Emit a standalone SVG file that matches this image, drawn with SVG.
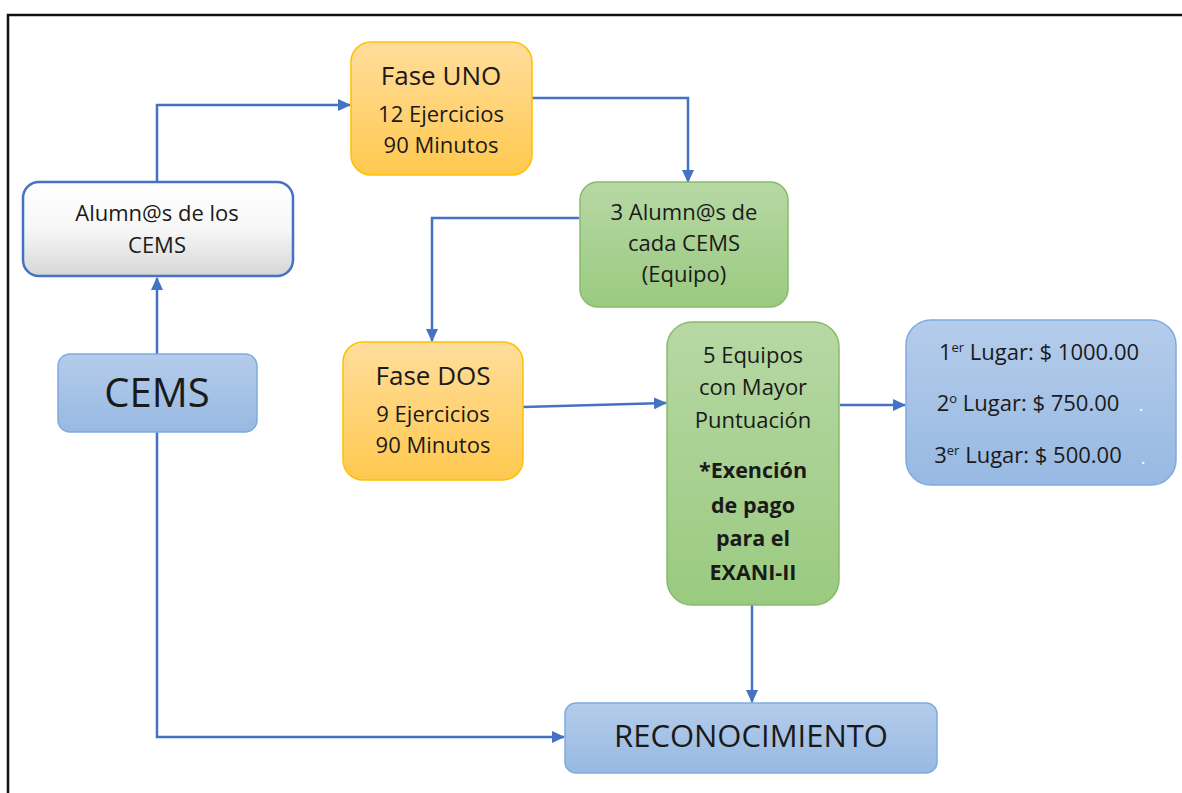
<svg xmlns="http://www.w3.org/2000/svg" width="1182" height="793" viewBox="0 0 1182 793">
<defs>
  <linearGradient id="gBlue" x1="0" y1="0" x2="0" y2="1">
    <stop offset="0" stop-color="#B5CCEB"/>
    <stop offset="1" stop-color="#97B9E2"/>
  </linearGradient>
  <linearGradient id="gGreen" x1="0" y1="0" x2="0" y2="1">
    <stop offset="0" stop-color="#B7D8A5"/>
    <stop offset="1" stop-color="#9ACA80"/>
  </linearGradient>
  <linearGradient id="gOrange" x1="0" y1="0" x2="0" y2="1">
    <stop offset="0" stop-color="#FFDD9C"/>
    <stop offset="1" stop-color="#FFC94F"/>
  </linearGradient>
  <linearGradient id="gWhite" x1="0" y1="0" x2="0" y2="1">
    <stop offset="0" stop-color="#FFFFFF"/>
    <stop offset="0.5" stop-color="#F7F7F7"/>
    <stop offset="1" stop-color="#D6D6D6"/>
  </linearGradient>
  <marker id="arr" markerUnits="userSpaceOnUse" markerWidth="13" markerHeight="12" refX="12" refY="6" orient="auto">
    <path d="M0,0 L13,6 L0,12 z" fill="#4472C4"/>
  </marker>
</defs>
<style>
  text { font-family: "Open Sans", "Liberation Sans", sans-serif; fill: #1A1A1A; text-anchor: middle; }
  .t { font-size: 22px; }
  .b { font-size: 21.5px; font-weight: bold; }
  .blue { fill: url(#gBlue); stroke: #7FAAE0; stroke-width: 1.5; }
  .green { fill: url(#gGreen); stroke: #86BC68; stroke-width: 1.5; }
  .orange { fill: url(#gOrange); stroke: #FFC000; stroke-width: 1.5; }
  .conn { fill: none; stroke: #4472C4; stroke-width: 2.5; }
</style>
<rect x="0" y="0" width="1182" height="793" fill="#FFFFFF"/>
<g id="frame" stroke="#111111" stroke-width="2.5" fill="none">
  <path d="M8,793 V15 H1182"/>
</g>

<g id="connectors">
  <path class="conn" d="M157,354 V278" marker-end="url(#arr)"/>
  <path class="conn" d="M157,182 V105 H350" marker-end="url(#arr)"/>
  <path class="conn" d="M532,98 H688 V182" marker-end="url(#arr)"/>
  <path class="conn" d="M579,218 H432 V341" marker-end="url(#arr)"/>
  <path class="conn" d="M523,407 L666,403" marker-end="url(#arr)"/>
  <path class="conn" d="M840,405 H905" marker-end="url(#arr)"/>
  <path class="conn" d="M752,605 V702" marker-end="url(#arr)"/>
  <path class="conn" d="M157,432 V737 H564" marker-end="url(#arr)"/>
</g>

<g id="alumnos">
  <rect x="23" y="182" width="270" height="94" rx="16" fill="url(#gWhite)" stroke="#4472C4" stroke-width="2.5"/>
  <text class="t" x="157" y="221">Alumn@s de los</text>
  <text class="t" x="157" y="253">CEMS</text>
</g>

<g id="cems">
  <rect class="blue" x="58" y="354" width="199" height="78" rx="12"/>
  <text x="157" y="407" style="font-size:40px">CEMS</text>
</g>

<g id="fase-uno">
  <rect class="orange" x="351" y="42" width="181" height="133" rx="20"/>
  <text x="441" y="85" style="font-size:26px">Fase UNO</text>
  <text class="t" x="441" y="122">12 Ejercicios</text>
  <text class="t" x="441" y="153">90 Minutos</text>
</g>

<g id="tres-alumnos">
  <rect class="green" x="580" y="182" width="208" height="125" rx="18"/>
  <text class="t" x="684" y="220">3 Alumn@s de</text>
  <text class="t" x="684" y="251">cada CEMS</text>
  <text class="t" x="684" y="282">(Equipo)</text>
</g>

<g id="fase-dos">
  <rect class="orange" x="343" y="342" width="180" height="138" rx="20"/>
  <text x="433" y="385" style="font-size:26px">Fase DOS</text>
  <text class="t" x="433" y="422">9 Ejercicios</text>
  <text class="t" x="433" y="453">90 Minutos</text>
</g>

<g id="cinco-equipos">
  <rect class="green" x="667" y="322" width="172" height="283" rx="25"/>
  <text class="t" x="753" y="363">5 Equipos</text>
  <text class="t" x="753" y="395">con Mayor</text>
  <text class="t" x="753" y="428">Puntuación</text>
  <text class="b" x="753" y="478">*Exención</text>
  <text class="b" x="753" y="513">de pago</text>
  <text class="b" x="753" y="546">para el</text>
  <text class="b" x="753" y="580">EXANI-II</text>
</g>

<g id="premios">
  <rect class="blue" x="906" y="320" width="270" height="165" rx="25"/>
  <text class="t" x="1039" y="360">1<tspan font-size="13" dy="-8">er</tspan><tspan dy="8"> Lugar: $ 1000.00</tspan></text>
  <text class="t" x="1028" y="411">2<tspan font-size="13" dy="-8">o</tspan><tspan dy="8"> Lugar: $ 750.00</tspan></text>
  <text class="t" x="1028" y="463">3<tspan font-size="13" dy="-8">er</tspan><tspan dy="8"> Lugar: $ 500.00</tspan></text>
  <text x="1141" y="411" style="font-size:18px;fill:#FFFFFF">.</text>
  <text x="1143" y="464" style="font-size:18px;fill:#FFFFFF">.</text>
</g>

<g id="reconocimiento">
  <rect class="blue" x="565" y="703" width="372" height="70" rx="11"/>
  <text x="751" y="747" style="font-size:31px">RECONOCIMIENTO</text>
</g>
</svg>
